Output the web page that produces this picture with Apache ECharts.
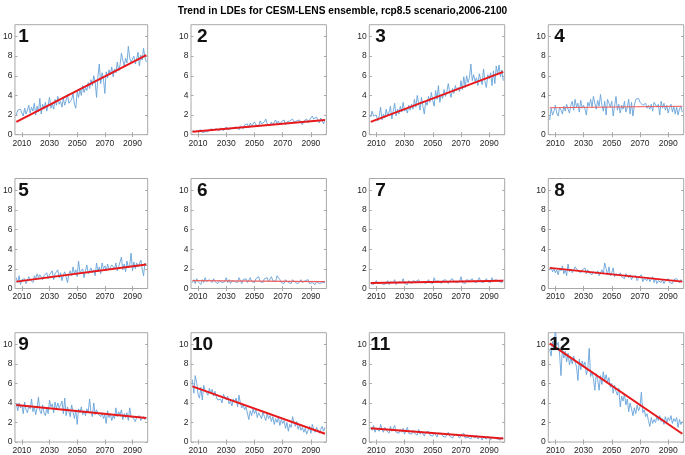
<!DOCTYPE html>
<html><head><meta charset="utf-8">
<script src="https://cdn.jsdelivr.net/npm/echarts@6/dist/echarts.min.js"></script>
<style>html,body{margin:0;padding:0;background:#fff}#c{width:685px;height:455px}</style>
</head><body><div id="c"></div>
<script>
const titleText = 'Trend in LDEs for CESM-LENS ensemble, rcp8.5 scenario,2006-2100';
const firstYear = 2006;
const xTickLabels = [2010, 2030, 2050, 2070, 2090];
const yTickLabels = [0, 2, 4, 6, 8, 10];
const panelLabels = ['1','2','3','4','5','6','7','8','9','10','11','12'];

const lde1 = [2.0,2.5,2.3,2.6,2.2,1.9,2.7,2.1,2.5,3.0, 2.2,2.8,2.4,3.2,2.0,2.9,2.3,3.7,2.1,3.1, 2.6,3.3,2.4,3.0,3.8,2.7,3.2,2.6,3.6,3.0, 3.9,3.1,3.4,2.8,3.7,3.0,3.5,4.1,3.2,3.0, 3.6,4.2,3.1,2.7,4.4,3.8,4.6,4.0,5.0,4.3, 4.8,4.5,5.3,4.7,5.6,5.0,6.0,5.4,3.8,5.9, 7.2,5.2,6.3,5.7,4.2,6.4,5.8,6.6,6.1,6.9, 5.9,6.7,6.3,7.4,6.5,7.1,8.3,7.6,7.0,7.8, 7.3,9.0,7.8,7.4,7.6,8.0,7.2,7.7,8.4,7.0, 8.1,7.6,8.8,7.9,7.4];
const lde2 = [0.4,0.2,0.3,0.1,0.4,0.3,0.5,0.2,0.4,0.3, 0.5,0.3,0.4,0.6,0.4,0.5,0.3,0.6,0.5,0.4, 0.7,0.5,0.4,0.6,0.8,0.5,0.7,0.6,0.5,0.7, 0.6,0.8,0.7,0.5,0.9,0.7,0.6,1.0,0.8,1.1, 0.7,1.2,0.9,0.8,1.3,1.0,1.2,0.9,1.4,1.1, 1.0,1.3,1.6,1.1,1.2,0.9,1.3,1.0,1.2,1.5, 1.1,1.4,1.0,1.3,1.2,1.5,1.0,1.3,1.1,1.4, 1.2,1.6,1.3,1.1,1.4,1.2,1.5,1.3,1.0,1.4, 1.3,1.6,1.2,1.5,1.3,1.9,1.6,1.4,1.8,1.5, 1.2,1.7,1.4,1.1,1.6];
const lde3 = [1.8,2.4,1.9,1.7,2.0,1.4,1.9,2.8,1.5,2.1, 1.7,2.6,1.9,2.3,2.9,1.6,2.4,3.2,1.9,2.6, 2.1,2.9,2.3,3.3,2.4,2.7,2.2,3.0,2.5,3.1, 2.6,3.6,2.8,4.0,3.2,2.5,3.8,2.9,2.1,3.4, 3.0,3.9,3.3,4.3,3.5,2.9,4.5,3.6,5.0,3.3, 4.1,3.7,4.6,3.9,4.4,5.2,4.3,3.8,4.7,4.2, 5.0,4.5,4.8,4.4,5.5,4.6,5.9,4.8,6.0,5.3, 5.8,7.2,5.5,6.1,5.4,5.8,5.0,6.2,5.6,5.1, 6.7,5.4,4.8,6.1,5.7,6.3,5.0,6.5,5.2,7.0, 6.2,7.1,5.9,6.6,5.5];
const lde4 = [1.5,2.7,2.0,2.4,3.0,2.2,1.9,2.8,2.5,2.1, 2.9,2.4,3.1,2.6,2.2,3.0,3.4,2.5,3.6,2.8, 3.2,2.3,3.5,2.7,3.0,2.6,2.0,3.3,2.9,3.6, 2.8,3.9,3.2,2.6,3.5,2.9,4.1,3.0,2.4,3.4, 2.0,3.6,3.2,2.8,3.4,1.9,2.9,3.9,2.5,3.1, 2.2,3.0,2.6,3.4,2.3,2.8,3.6,2.1,3.3,1.9, 3.0,3.6,3.4,3.7,3.3,3.5,3.0,2.9,3.2,2.7, 3.0,2.6,3.1,2.4,3.3,3.5,2.8,3.1,2.0,3.4, 2.7,3.2,2.5,3.0,2.2,2.8,3.1,2.3,2.9,2.1, 2.8,2.0,2.6,2.9,2.3];
const lde5 = [1.1,0.6,1.3,0.4,0.9,0.7,1.0,0.5,0.8,1.2, 0.9,1.1,0.6,1.3,1.0,1.5,1.1,1.4,1.2,0.9, 1.3,1.1,1.6,1.0,1.4,1.2,1.8,0.9,1.5,1.3, 1.9,1.1,1.6,0.8,1.4,1.7,1.2,0.6,1.5,1.8, 1.3,2.2,1.5,1.9,1.2,2.8,1.6,1.4,2.0,1.1, 1.8,2.4,1.5,1.7,2.1,1.6,1.9,1.3,2.6,1.7, 2.2,1.5,2.6,2.0,2.3,1.8,2.5,1.9,2.1,2.4, 2.4,2.0,2.6,1.8,2.2,2.0,3.2,1.9,2.5,1.7, 2.8,2.1,2.4,3.6,1.8,2.7,2.0,2.6,2.2,2.5, 2.9,2.0,1.3,2.6,2.3];
const lde6 = [0.6,0.9,0.5,1.0,0.7,0.8,0.4,0.9,0.6,1.1, 0.7,0.5,0.9,0.8,0.6,1.0,0.7,0.9,0.5,0.8, 1.0,0.6,0.8,0.7,1.1,0.6,0.9,0.5,0.8,1.0, 0.7,0.9,0.6,1.1,0.8,0.5,0.9,0.7,1.0,0.6, 0.8,1.1,0.7,0.9,0.6,1.0,0.8,1.2,0.7,0.9, 0.6,1.0,0.8,1.1,0.7,0.9,1.2,0.8,1.0,0.7, 1.3,1.5,0.9,0.6,0.8,0.5,0.9,0.7,0.6,0.8, 0.5,0.9,0.7,0.6,0.8,0.5,0.7,0.9,0.6,0.4, 0.8,0.6,0.9,0.5,0.7,0.6,0.8,0.4,0.7,0.9, 0.5,0.7,0.6,0.8,0.6];
const lde7 = [0.5,0.7,0.4,0.6,0.8,0.5,0.3,0.6,0.7,0.4, 0.6,0.5,0.8,0.4,0.7,0.5,0.6,0.9,0.4,0.6, 0.7,0.5,0.6,1.0,0.5,0.7,0.4,0.8,0.6,0.5, 0.8,0.6,0.7,0.5,0.9,0.6,0.4,0.7,0.8,0.5, 0.7,0.9,0.6,0.8,0.5,1.1,0.7,0.6,0.8,0.7, 0.5,0.8,0.6,0.9,0.7,0.5,0.8,0.6,1.0,0.7, 0.9,0.6,0.8,0.7,1.2,0.6,0.8,0.5,0.9,0.7, 0.8,0.6,1.0,0.7,0.9,0.6,0.8,1.1,0.7,0.9, 0.6,0.8,1.0,0.7,0.9,0.6,1.1,0.8,0.7,0.9, 1.0,0.7,0.8,0.6,0.9];
const lde8 = [1.9,2.2,1.7,2.0,1.6,1.9,1.4,2.1,1.8,2.3, 1.5,1.9,1.3,2.5,1.7,2.0,1.6,1.9,2.2,2.1, 1.8,2.0,1.6,1.9,1.7,2.1,1.5,1.9,1.6,1.8, 1.4,1.7,1.9,1.5,1.8,1.3,1.6,1.9,1.5,2.6, 2.0,1.4,2.2,1.3,1.6,2.1,1.2,1.5,1.7,1.3, 1.6,1.2,1.4,1.0,1.5,1.3,1.1,1.4,0.9,1.2, 1.0,1.3,0.8,1.1,0.9,1.4,0.7,1.0,1.2,0.8, 1.1,0.7,0.9,1.2,0.6,1.0,0.5,0.8,1.0,0.6, 0.9,0.5,0.8,0.7,1.0,0.6,0.8,0.5,0.9,0.7, 1.0,0.8,0.6,0.9,0.7];
const lde9 = [3.9,3.2,4.0,3.5,3.8,2.9,4.1,3.3,3.0,3.7, 3.4,4.4,3.1,3.6,2.8,3.5,4.6,3.2,2.9,3.8, 3.0,2.7,3.5,2.9,4.3,3.6,3.9,3.0,4.1,3.4, 4.0,3.5,3.8,4.2,2.9,4.5,2.7,3.6,3.1,2.6, 3.8,3.1,2.4,3.3,1.8,3.4,3.0,3.6,2.8,3.2, 2.7,3.4,3.1,4.4,3.0,2.6,4.0,2.8,3.3,2.9, 3.1,2.6,3.0,2.4,2.8,1.9,3.2,2.5,2.9,2.2, 2.7,2.4,3.5,2.6,3.1,2.8,3.3,2.3,2.9,2.5, 3.0,2.2,3.5,2.6,2.8,2.4,2.1,2.5,2.3,2.7, 2.2,2.4,2.6,2.3,2.5];
const lde10 = [6.4,5.0,6.8,6.1,4.9,4.5,5.6,4.3,5.8,5.3, 5.1,4.8,5.5,5.0,5.4,4.7,5.2,4.6,4.3,4.1, 4.4,4.0,4.9,4.6,4.3,4.7,3.9,4.2,3.7,4.4, 4.1,4.5,3.6,4.8,4.0,3.5,3.8,3.3,3.6,3.5, 2.3,3.2,2.7,3.4,2.9,3.3,2.5,3.0,2.8,2.4, 3.1,2.6,2.2,2.9,2.4,2.7,2.1,2.6,1.8,2.4, 2.0,2.5,1.7,2.3,1.9,2.2,1.4,2.0,1.1,1.8, 1.5,2.6,2.0,1.6,2.1,1.3,1.7,1.2,1.5,1.0, 1.4,0.8,1.2,1.6,0.9,1.8,1.3,1.0,1.5,1.2, 0.9,1.3,1.6,1.1,1.5];
const lde11 = [1.5,1.2,1.7,1.0,1.4,1.6,1.1,1.8,1.3,1.0, 1.5,1.2,1.4,0.9,1.6,1.1,1.3,1.7,1.0,1.2, 0.9,1.3,1.0,1.4,0.8,1.2,1.5,0.9,1.1,0.8, 1.2,0.9,1.0,0.7,1.3,0.8,1.1,0.9,0.6,1.0, 0.8,1.1,0.7,0.9,0.6,1.0,0.8,0.5,0.9,0.7, 0.9,0.6,0.8,0.5,0.7,1.0,0.6,0.8,0.4,0.7, 0.5,0.8,0.6,0.4,0.7,0.5,0.9,0.4,0.6,0.5, 0.7,0.3,0.6,0.5,0.4,0.7,0.3,0.5,0.6,0.2, 0.5,0.4,0.3,0.6,0.4,0.2,0.5,0.3,0.4,0.5, 0.3,0.4,0.2,0.5,0.3];
const lde12 = [9.5,8.8,10.3,9.4,11.6,9.9,10.2,9.0,6.8,9.7, 8.6,9.3,8.2,9.1,7.9,8.6,8.0,8.8,9.0,7.7, 6.3,8.5,7.4,8.3,7.8,8.2,6.9,7.5,9.6,6.7, 7.2,6.5,5.3,7.0,6.4,5.3,6.8,5.9,7.2,6.3, 6.9,6.1,6.6,5.6,6.0,5.0,5.8,5.2,4.8,5.5, 3.6,4.7,4.2,4.9,3.8,4.4,3.1,4.0,3.4,2.7, 3.5,2.9,3.8,3.2,3.6,5.1,3.0,3.3,2.6,2.9, 2.2,1.6,2.5,1.9,2.3,2.0,2.6,2.2,2.7,2.1, 2.4,1.8,2.6,2.0,2.5,2.2,2.7,1.9,2.4,2.1, 2.5,1.5,2.3,1.8,2.1];

const panelSeries = [lde1,lde2,lde3,lde4,lde5,lde6,lde7,lde8,lde9,lde10,lde11,lde12];
const trendStart = [1.3, 0.3, 1.3, 2.75, 0.7, 0.8, 0.55, 2.1, 3.8, 5.7, 1.4, 10.1];
const trendEnd   = [8.1, 1.5, 6.4, 2.9, 2.45, 0.7, 0.8, 0.7, 2.45, 0.85, 0.35, 0.85];
const trendYears = [2006, 2100];

// layout / style
const colLeft = [12.3, 191, 369.3, 548.3];
const rowTop = [24.7, 178.5, 332.7];
const W = 135.4, H = 110;
const XMIN = 2005, XMAX = 2101, YMIN = 0, YMAX = 11.2;
const gray = '#a8a8a8';
const labelFont = 'Liberation Sans, Arial, sans-serif';
const thinTrendPanels = [3, 5];

const grids = [], xAxes = [], yAxes = [], series = [], graphics = [];
panelSeries.forEach((vals, i) => {
  const r = Math.floor(i / 4), c = i % 4;
  const left = colLeft[c], top = rowTop[r];
  grids.push({left: left, top: top, width: W, height: H, show: true, borderColor: gray, borderWidth: 1, backgroundColor: '#fff'});
  const base = {gridIndex: i, type: 'value', min: XMIN, max: XMAX, splitLine: {show: false}, axisLine: {show: false}};
  xAxes.push(Object.assign({}, base, {position: 'bottom',
    axisTick: {show: true, inside: true, length: 2.5, lineStyle: {color: gray}, customValues: xTickLabels},
    axisLabel: {show: true, customValues: xTickLabels, formatter: v => String(v), fontSize: 8.5, color: '#262626', margin: 4, fontFamily: labelFont}}));
  xAxes.push(Object.assign({}, base, {position: 'top',
    axisTick: {show: true, inside: true, length: 2.5, lineStyle: {color: gray}, customValues: xTickLabels},
    axisLabel: {show: false}}));
  const ybase = {gridIndex: i, type: 'value', min: YMIN, max: YMAX, splitLine: {show: false}, axisLine: {show: false}};
  yAxes.push(Object.assign({}, ybase, {position: 'left',
    axisTick: {show: true, inside: true, length: 2.5, lineStyle: {color: gray}, customValues: yTickLabels},
    axisLabel: {show: true, customValues: yTickLabels, formatter: v => String(v), fontSize: 8.5, color: '#262626', margin: 2.5, fontFamily: labelFont}}));
  yAxes.push(Object.assign({}, ybase, {position: 'right',
    axisTick: {show: true, inside: true, length: 2.5, lineStyle: {color: gray}, customValues: yTickLabels},
    axisLabel: {show: false}}));
  series.push({type: 'line', xAxisIndex: 2*i, yAxisIndex: 2*i, symbol: 'none', clip: true,
    data: vals.map((v, k) => [firstYear + k, v]),
    lineStyle: {color: '#66a3d9', width: 0.9}, z: 2, silent: true});
  const thin = thinTrendPanels.indexOf(i) >= 0;
  series.push({type: 'line', xAxisIndex: 2*i, yAxisIndex: 2*i, symbol: 'none', clip: true,
    data: [[trendYears[0], trendStart[i]], [trendYears[1], trendEnd[i]]],
    lineStyle: {color: thin ? '#f05a5a' : '#e8191c', width: thin ? 1.1 : 2}, z: 3, silent: true});
  graphics.push({type: 'text', left: left + 11.5 - (panelLabels[i].length > 1 ? 10.5 : 5.5), top: top + 2.5, z: 100,
    style: {text: panelLabels[i], font: 'bold 19px "Liberation Sans", Arial, sans-serif', fill: '#111'}});
});

const chart = echarts.init(document.getElementById('c'), null, {renderer: 'canvas'});
chart.setOption({
  animation: false,
  backgroundColor: '#fff',
  title: {text: titleText, left: 'center', top: 1,
    textStyle: {fontSize: 10.2, fontWeight: 'bold', color: '#000', fontFamily: 'Liberation Sans, Arial, sans-serif'}},
  grid: grids, xAxis: xAxes, yAxis: yAxes, series: series, graphic: graphics
});
</script></body></html>
